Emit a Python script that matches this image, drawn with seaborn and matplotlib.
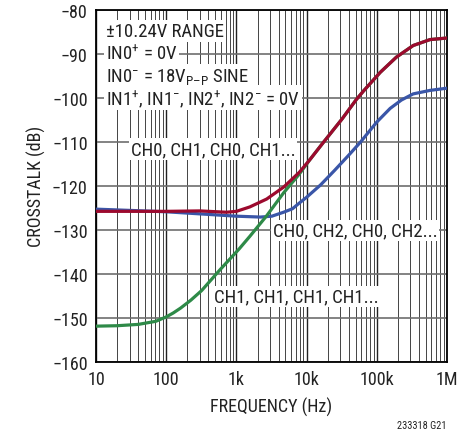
import numpy as np
import seaborn as sns
import matplotlib
matplotlib.use("Agg")
import matplotlib.pyplot as plt
from matplotlib.ticker import FixedLocator, LogLocator, NullFormatter

# 读图所得数据 (Hz, dB)
freq_ch0_ch1 = [10, 32, 100, 300, 720, 1000, 1550, 2700, 4700, 7900, 11200, 17000,
                32000, 51000, 65000, 112000, 190000, 330000, 575000, 1000000]
xtalk_ch0_ch1 = [-125.8, -125.8, -125.8, -125.7, -126.0, -125.8, -124.8, -123.0,
                 -120.3, -116.9, -114.0, -110.3, -104.8, -100.4, -98.4, -94.2,
                 -90.75, -88.1, -86.75, -86.4]

freq_ch0_ch2 = [10, 32, 100, 320, 1000, 2200, 3200, 4700, 6300, 7900, 10000, 15800,
                25000, 40000, 59000, 79000, 100000, 155000, 224000, 330000,
                575000, 1000000]
xtalk_ch0_ch2 = [-125.3, -125.6, -125.9, -126.4, -126.9, -127.1, -126.9, -126.0,
                 -125.2, -123.9, -122.6, -119.8, -116.5, -113.0, -110.0, -107.5,
                 -105.5, -102.4, -100.5, -99.1, -98.3, -97.8]

freq_ch1_ch1 = [10, 20, 40, 71, 100, 126, 160, 224, 320, 590, 1100, 1550, 2700,
                4700, 7900, 11200, 17000, 32000, 51000, 65000, 112000, 190000,
                330000, 575000, 1000000]
xtalk_ch1_ch1 = [-151.9, -151.8, -151.5, -150.8, -149.8, -148.9, -147.8, -146.0,
                 -143.8, -139.0, -134.3, -131.5, -126.8, -121.6, -117.3, -114.0,
                 -110.3, -104.8, -100.4, -98.4, -94.2, -90.75, -88.1, -86.75, -86.4]

y_ticks = [-80, -90, -100, -110, -120, -130, -140, -150, -160]
x_ticks = [10, 100, 1000, 10000, 100000, 1000000]
x_labels = ["10", "100", "1k", "10k", "100k", "1M"]

sns.set_style("white")
plt.rcParams['font.family'] = ['Roboto Condensed', 'DejaVu Sans']
plt.rcParams['mathtext.fontset'] = 'custom'
plt.rcParams['mathtext.rm'] = 'Roboto Condensed'
plt.rcParams['mathtext.it'] = 'Roboto Condensed'
plt.rcParams['mathtext.bf'] = 'Roboto Condensed'

fig = plt.figure(figsize=(4.73, 4.35), dpi=100)
ax = fig.add_axes([0.203, 0.166, 0.742, 0.809])

# 曲线 (蓝, 绿, 红 的叠放顺序)
line_kw = dict(lw=2.3, solid_joinstyle="round", solid_capstyle="round")
sns.lineplot(x=freq_ch0_ch2, y=xtalk_ch0_ch2, ax=ax, color="#3a56a8", zorder=3, **line_kw)
sns.lineplot(x=freq_ch1_ch1, y=xtalk_ch1_ch1, ax=ax, color="#2e8a48", zorder=4, **line_kw)
sns.lineplot(x=freq_ch0_ch1, y=xtalk_ch0_ch1, ax=ax, color="#9c0a2e", zorder=5, **line_kw)

ax.set_xscale("log")
ax.set_xlim(10, 1e6)
ax.set_ylim(-160, -80)

# 网格
ax.xaxis.set_major_locator(FixedLocator(x_ticks))
ax.xaxis.set_minor_locator(LogLocator(base=10, subs=np.arange(2, 10)))
ax.xaxis.set_minor_formatter(NullFormatter())
ax.set_xticklabels(x_labels)
ax.set_yticks(y_ticks)
ax.grid(True, which="major", axis="x", color="#222222", lw=1.0)
ax.grid(True, which="minor", axis="x", color="#444444", lw=0.7)
ax.grid(True, which="major", axis="y", color="#6e6e6e", lw=1.2)
ax.tick_params(which="both", length=0, labelsize=13, colors="#222222", pad=6)
for s in ax.spines.values():
    s.set_color("black")
    s.set_linewidth(1.3)
ax.set_axisbelow(True)

ax.set_xlabel("FREQUENCY (Hz)", fontsize=13, color="#222222", labelpad=6)
ax.set_ylabel("CROSSTALK (dB)", fontsize=13, color="#222222", labelpad=4)

# 注释文字
box = dict(facecolor="white", edgecolor="none", pad=1.2)
cond = [("±10.24V RANGE", -84.8),
        ("IN0$^{+}$ = 0V", -89.9),
        ("IN0$^{-}$ = 18V$_{\\mathrm{P–P}}$ SINE", -95.0),
        ("IN1$^{+}$, IN1$^{-}$, IN2$^{+}$, IN2$^{-}$ = 0V", -100.0)]
for txt, yv in cond:
    ax.text(13.8, yv, txt, fontsize=13.5, color="#222222", va="center", ha="left",
            bbox=box, zorder=6)

ax.text(31, -111.6, "CH0, CH1, CH0, CH1...", fontsize=13.5, color="#222222",
        va="center", ha="left", bbox=box, zorder=6)
ax.text(3300, -130.2, "CH0, CH2, CH0, CH2...", fontsize=13.5, color="#222222",
        va="center", ha="left", bbox=box, zorder=6)
ax.text(480, -145.2, "CH1, CH1, CH1, CH1...", fontsize=13.5, color="#222222",
        va="center", ha="left", bbox=box, zorder=6)

fig.text(0.945, 0.014, "233318 G21", fontsize=7.5, color="#222222", ha="right")

fig.savefig("out.png", dpi=100)
